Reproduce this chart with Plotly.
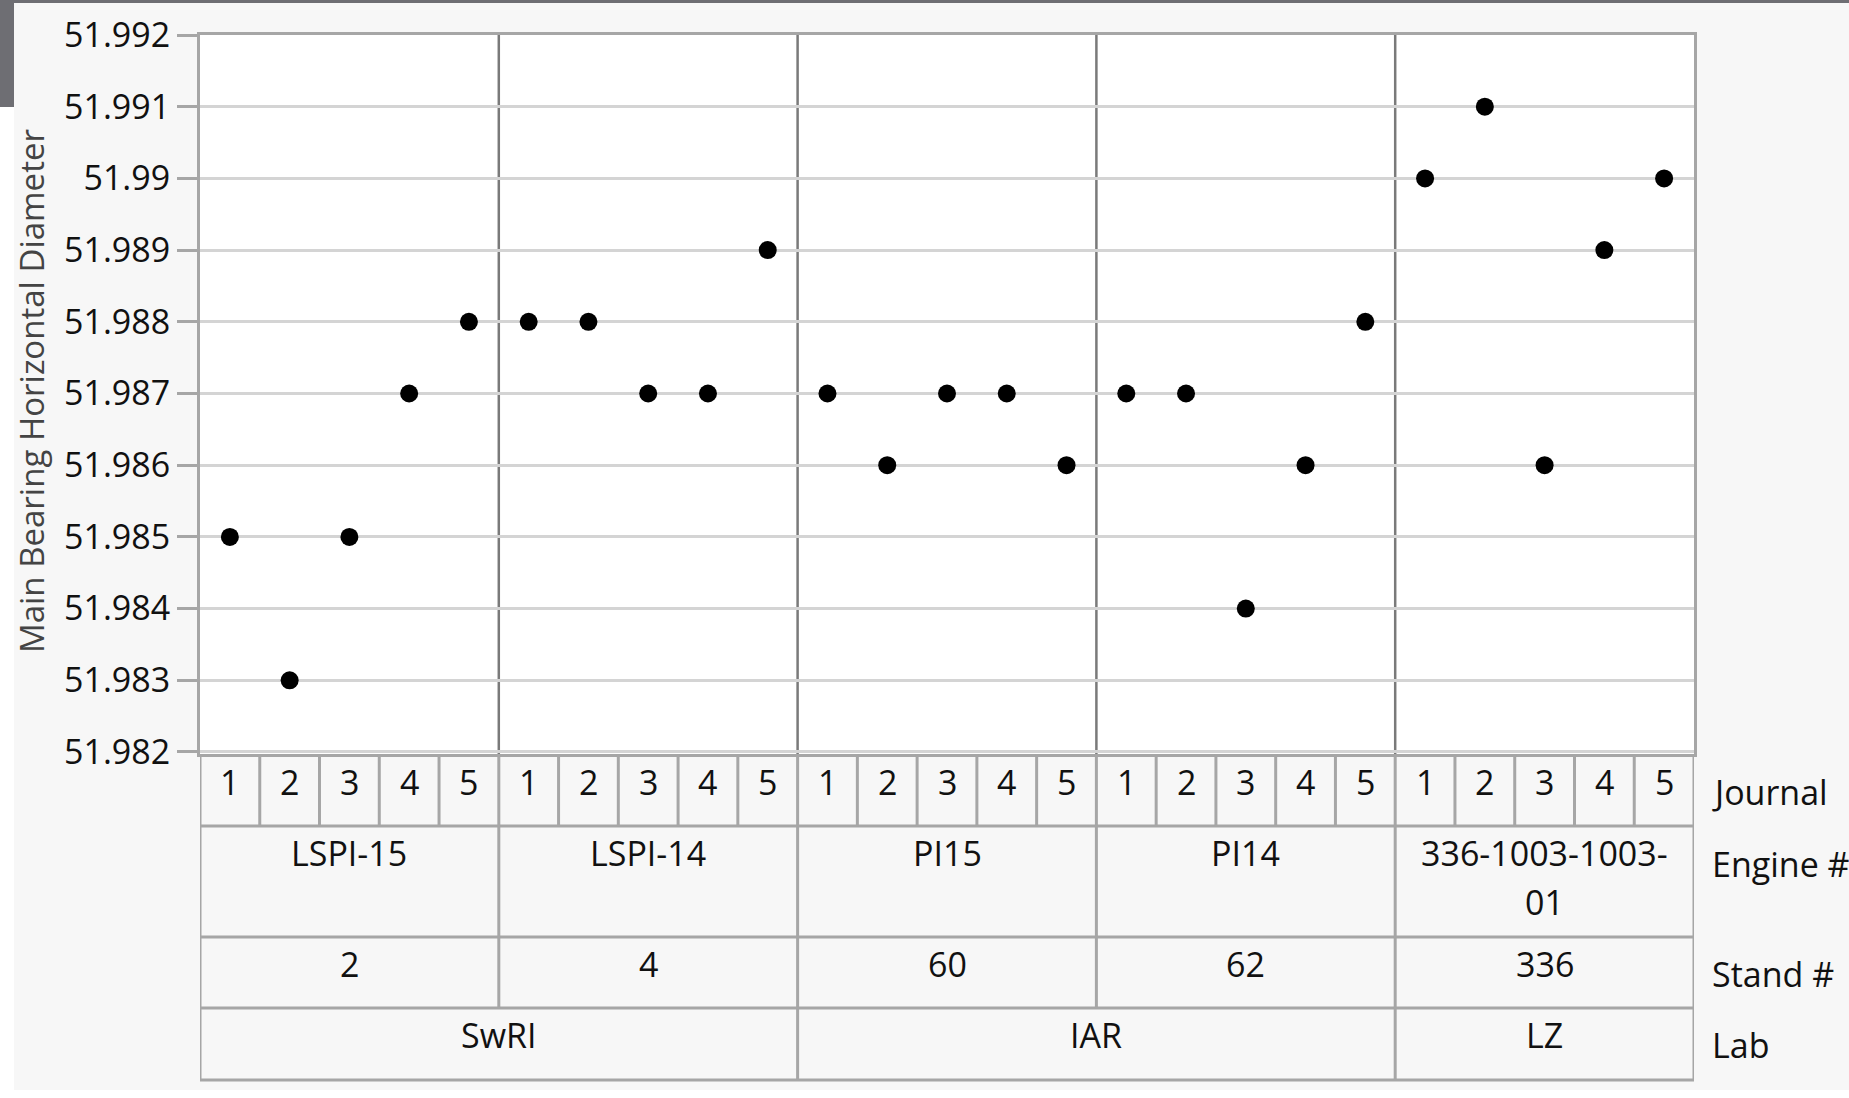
import plotly.graph_objects as go

# ---------------- data ----------------
labs = ["SwRI", "IAR", "LZ"]
lab_engine_counts = [2, 2, 1]
stands = ["2", "4", "60", "62", "336"]
engines = ["LSPI-15", "LSPI-14", "PI15", "PI14", "336-1003-1003-01"]
journals = ["1", "2", "3", "4", "5"]

diam_lspi15 = [51.985, 51.983, 51.985, 51.987, 51.988]
diam_lspi14 = [51.988, 51.988, 51.987, 51.987, 51.989]
diam_pi15 = [51.987, 51.986, 51.987, 51.987, 51.986]
diam_pi14 = [51.987, 51.987, 51.984, 51.986, 51.988]
diam_336 = [51.990, 51.991, 51.986, 51.989, 51.990]

ytick_vals = [51.982, 51.983, 51.984, 51.985, 51.986, 51.987,
              51.988, 51.989, 51.990, 51.991, 51.992]
ytick_text = ["51.982", "51.983", "51.984", "51.985", "51.986", "51.987",
              "51.988", "51.989", "51.99", "51.991", "51.992"]

row_titles = ["Journal", "Engine #", "Stand #", "Lab"]
y_title = "Main Bearing Horizontal Diameter"

# ---------------- layout helpers ----------------
W, H = 1849, 1098
FONT = "Open Sans"
FS = 34
LINE = "#a6a6a6"


def py(y):
    return 1 - y / H


series = [diam_lspi15, diam_lspi14, diam_pi15, diam_pi14, diam_336]
nj = len(journals)
ncol = nj * len(engines)

xs, ys = [], []
for g, vals in enumerate(series):
    for j, v in enumerate(vals):
        xs.append(g * nj + j + 0.5)
        ys.append(v)

fig = go.Figure()
fig.add_trace(go.Scatter(x=xs, y=ys, mode="markers",
                         marker=dict(size=18, color="black"),
                         hoverinfo="skip", showlegend=False))

shapes = []
annotations = []

# page decorations
shapes.append(dict(type="rect", xref="paper", yref="paper", x0=0, x1=1,
                   y0=py(3), y1=1, fillcolor="#6e6e73", line_width=0, layer="above"))
shapes.append(dict(type="rect", xref="paper", yref="paper", x0=0, x1=14 / W,
                   y0=py(107), y1=1, fillcolor="#6e6e73", line_width=0, layer="above"))
shapes.append(dict(type="rect", xref="paper", yref="paper", x0=0, x1=14 / W,
                   y0=0, y1=py(107), fillcolor="white", line_width=0, layer="above"))
shapes.append(dict(type="rect", xref="paper", yref="paper", x0=0, x1=1,
                   y0=0, y1=py(1090), fillcolor="white", line_width=0, layer="above"))

# group separators inside plot
for g in range(1, len(engines)):
    shapes.append(dict(type="line", xref="x", yref="y domain", x0=g * nj, x1=g * nj,
                       y0=0, y1=1, line=dict(color="#7a7a7a", width=2.5), layer="below"))

# table rows (pixel y of boundaries)
rows = [754, 826, 937, 1008, 1080]
for yb in rows[1:]:
    shapes.append(dict(type="line", xref="x", yref="paper", x0=0, x1=ncol,
                       y0=py(yb), y1=py(yb), line=dict(color=LINE, width=3)))

# vertical lines per row
journal_bounds = list(range(0, ncol + 1))
engine_bounds = list(range(0, ncol + 1, nj))
lab_bounds = [0]
for c in lab_engine_counts:
    lab_bounds.append(lab_bounds[-1] + c * nj)
row_bounds = [journal_bounds, engine_bounds, engine_bounds, lab_bounds]
for r, bounds in enumerate(row_bounds):
    for b in bounds:
        shapes.append(dict(type="line", xref="x", yref="paper", x0=b, x1=b,
                           y0=py(rows[r + 1]), y1=py(rows[r]),
                           line=dict(color=LINE, width=3)))

TXT = dict(family=FONT, size=FS, color="#111111")

# journal labels
for g in range(len(engines)):
    for j, lab in enumerate(journals):
        annotations.append(dict(x=g * nj + j + 0.5, y=py(rows[0] + 28), xref="x", yref="paper",
                                text=lab, showarrow=False, font=TXT,
                                xanchor="center", yanchor="middle"))


def wrap(s, n=14):
    parts = []
    while len(s) > n:
        parts.append(s[:n])
        s = s[n:]
    parts.append(s)
    return parts


# engine labels
for g, eng in enumerate(engines):
    for k, line in enumerate(wrap(eng)):
        annotations.append(dict(x=g * nj + nj / 2, y=py(rows[1] + 27 + 49 * k), xref="x", yref="paper",
                                text=line, showarrow=False, font=TXT,
                                xanchor="center", yanchor="middle"))

# stand labels
for g, st in enumerate(stands):
    annotations.append(dict(x=g * nj + nj / 2, y=py(rows[2] + 27), xref="x", yref="paper",
                            text=st, showarrow=False, font=TXT,
                            xanchor="center", yanchor="middle"))

# lab labels
for i, lb in enumerate(labs):
    annotations.append(dict(x=(lab_bounds[i] + lab_bounds[i + 1]) / 2, y=py(rows[3] + 27),
                            xref="x", yref="paper", text=lb, showarrow=False, font=TXT,
                            xanchor="center", yanchor="middle"))

# row titles
row_title_y = [792, 864, 974, 1045]
for t, yy in zip(row_titles, row_title_y):
    annotations.append(dict(x=1710 / W, y=py(yy), xref="paper", yref="paper", text=t,
                            showarrow=False, font=TXT, xanchor="left", yanchor="middle"))

# y title
annotations.append(dict(x=31 / W, y=py(391), xref="paper", yref="paper", text=y_title,
                        textangle=-90, showarrow=False,
                        font=dict(family=FONT, size=33, color="#444444"),
                        xanchor="center", yanchor="middle"))

fig.update_layout(
    width=W, height=H,
    autosize=False,
    margin=dict(l=0, r=0, t=0, b=0, pad=0, autoexpand=False),
    paper_bgcolor="#f7f7f7",
    plot_bgcolor="white",
    showlegend=False,
    shapes=shapes,
    annotations=annotations,
    xaxis=dict(domain=[200 / W, 1694 / W], range=[0, ncol], showgrid=False,
               zeroline=False, showticklabels=False, ticks="", automargin=False,
               showline=True, linecolor=LINE, linewidth=3, mirror=True),
    yaxis=dict(domain=[py(754), py(35)], range=[51.981972, 51.992],
               tickvals=ytick_vals, ticktext=ytick_text, automargin=False,
               ticks="outside", ticklen=20, tickwidth=2.5, tickcolor=LINE,
               showgrid=True, gridcolor="#d4d4d4", gridwidth=2.5,
               zeroline=False, showline=True, linecolor=LINE, linewidth=3,
               mirror=True, tickfont=TXT),
)

fig.write_html("out.html", config={"responsive": False, "displayModeBar": False},
               post_script="document.body.style.margin='0px';document.body.style.overflow='hidden';")
